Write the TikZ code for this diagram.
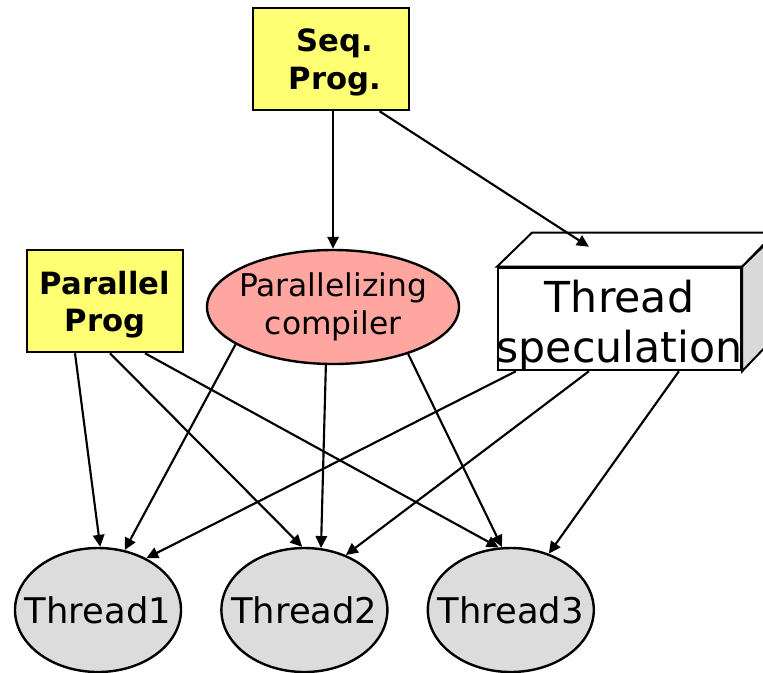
\documentclass[tikz,border=0pt]{standalone}
\usepackage{fontspec}
\setmainfont{DejaVu Sans}
\usetikzlibrary{positioning, calc, arrows.meta, shapes.geometric}
\definecolor{ProgYellow}{HTML}{FFFF73}
\definecolor{CompPink}{HTML}{FFA6A0}
\definecolor{ThreadGray}{HTML}{DCDCDC}
\definecolor{SideGray}{HTML}{D9D9D9}
\tikzset{
    progbox/.style={rectangle, draw, line width=1.9pt, fill=ProgYellow, minimum width=117pt, minimum height=76.5pt, inner sep=0pt,
        label={[align=center, font=\bfseries\fontsize{23}{28}\selectfont, yshift=-2.5pt]center:#1}},
    compnode/.style={ellipse, draw, line width=1.8pt, fill=CompPink, minimum width=189pt, minimum height=85.5pt, inner sep=0pt,
        label={[align=center, font=\fontsize{23.5}{28}\selectfont]center:#1}},
    specbox/.style={rectangle, draw, line width=1.9pt, fill=white, minimum width=182pt, minimum height=76.5pt, inner sep=0pt,
        label={[align=center, font=\fontsize{32}{37}\selectfont, yshift=-5pt]center:#1}},
    threadnode/.style={ellipse, draw, line width=1.8pt, fill=ThreadGray, minimum width=124.5pt, minimum height=93pt, inner sep=0pt,
        label={[font=\fontsize{26.5}{32}\selectfont]center:#1}},
    arrow/.style={-{Triangle[length=9pt, width=8.5pt]}, line width=1.6pt},
}
\begin{document}
\begin{tikzpicture}[x=0.75pt, y=-0.75pt]
    \useasboundingbox (0,0) rectangle (763,672);
    \clip (0,0) rectangle (763,672);

    % Inputs
    \node[progbox={\hspace*{6pt}Seq.\\\hspace*{6pt}Prog.}] (seq) at (331,59) {};
    \node[progbox={Parallel\\Prog}] (par) at (105,301) {};

    % Middle layer
    \node[compnode={Parallelizing\\compiler}] (comp) at (333,307) {};
    \node[specbox={Thread\\speculation}] (spec) at (619.5,319) {};
    \draw[line width=1.5pt, fill=white] (spec.north west) -- ++(35,-34) -- ++(243,0) -- (spec.north east) -- cycle;
    \draw[line width=1.5pt, fill=SideGray] (spec.north east) -- ++(35,-34) -- ++(0,102) -- (spec.south east) -- cycle;
    \coordinate (spectop) at ($(spec.north west)+(92,-20)$);

    % Threads
    \node[threadnode=Thread1] (t1) at (98,610) {};
    \node[threadnode=Thread2, right=28.5pt of t1] (t2) {};
    \node[threadnode=Thread3, right=28.5pt of t2] (t3) {};

    % Arrows from the sequential program
    \draw[arrow] (seq.south -| comp.north) -- (comp.north);
    \draw[arrow] ([xshift=-23pt]seq.south east) -- (spectop);

    % Arrows from the parallel program
    \draw[arrow] ([xshift=-22.5pt]par.south) -- (t1.88);
    \draw[arrow] ([xshift=3.75pt]par.south) -- (t2.92);
    \draw[arrow] ([xshift=30pt]par.south) -- (t3.101);

    % Arrows from the compiler
    \draw[arrow] (comp.201) -- (t1.66);
    \draw[arrow] (comp.263) -- (t2.75);
    \draw[arrow] (comp.328) -- (t3.98);

    % Arrows from thread speculation
    \draw[arrow] ([xshift=14.25pt]spec.south west) -- (t1.47);
    \draw[arrow] ([xshift=69pt]spec.south west) -- (t2.53);
    \draw[arrow] ([xshift=136.5pt]spec.south west) -- (t3.56);
\end{tikzpicture}
\end{document}
